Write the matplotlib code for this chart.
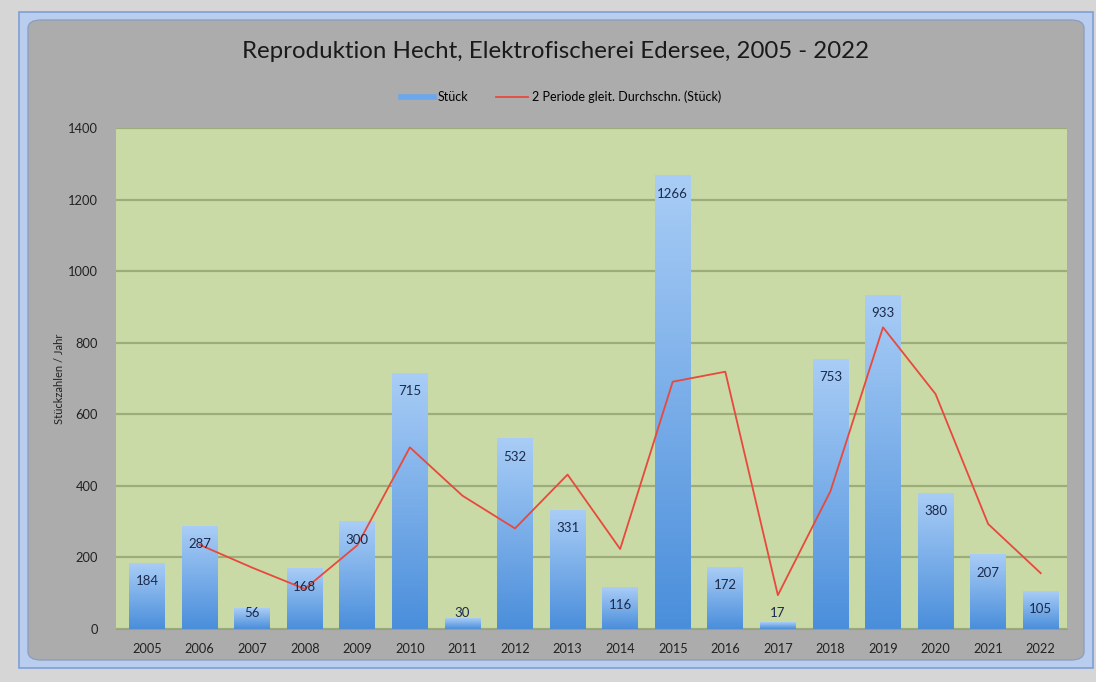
"""Reproduktion Hecht, Elektrofischerei Edersee - bar chart with 2 period moving average."""
import numpy as np
import matplotlib.pyplot as plt
from matplotlib.patches import FancyBboxPatch, Rectangle
from matplotlib.lines import Line2D
from matplotlib.colors import LinearSegmentedColormap

plt.rcParams['font.family'] = ['Lato', 'DejaVu Sans']

years = ["2005", "2006", "2007", "2008", "2009", "2010", "2011", "2012", "2013",
         "2014", "2015", "2016", "2017", "2018", "2019", "2020", "2021", "2022"]
stueck = [184, 287, 56, 168, 300, 715, 30, 532, 331, 116, 1266, 172, 17, 753, 933, 380, 207, 105]
# 2 Periode gleit. Durchschn. (from 2006 on)
avg_years = years[1:]
avg_vals = [235.5, 171.5, 112, 234, 507.5, 372.5, 281, 431.5, 223.5, 691,
            719, 94.5, 385, 843, 656.5, 293.5, 156]

fig = plt.figure(figsize=(10.96, 6.82), dpi=100)
fig.patch.set_facecolor("#d6d6d6")

# chart frame (selected Excel chart look)
W, H = 1096, 682
def fx(px):
    return px / W
def fy(py):
    return 1 - py / H

fig.patches.append(Rectangle((fx(19), fy(668)), fx(1093 - 19), (668 - 12) / H,
                             transform=fig.transFigure, facecolor="#b9cdee",
                             edgecolor="#7f9fd6", lw=1.2, zorder=-5))
fig.patches.append(FancyBboxPatch((fx(28), fy(660)), fx(1084 - 28), (660 - 20) / H,
                                  boxstyle="round,pad=0,rounding_size=0.012",
                                  transform=fig.transFigure, facecolor="#acacac",
                                  edgecolor="#8e9fc0", lw=1.0, zorder=-4))

ax = fig.add_axes([fx(116), fy(629), fx(1067 - 116), (629 - 128) / H])
ax.set_zorder(1)
ax.set_facecolor("#c9daa7")

x = np.arange(len(years))
ax.set_yticks(range(0, 1401, 200))
ax.set_xticks(x)
ax.set_xticklabels(years)
ax.yaxis.grid(True, color="#9cad7b", lw=1.6)
ax.set_axisbelow(True)
for s in ["top", "right", "left"]:
    ax.spines[s].set_visible(False)
ax.spines["bottom"].set_color("#9a9a9a")
ax.tick_params(length=0, colors="#222222")
ax.tick_params(axis="y", pad=13, labelsize=9.3)
ax.tick_params(axis="x", pad=10, labelsize=9.2)

# gradient bars
cmap = LinearSegmentedColormap.from_list("bar", ["#4a8edb", "#a9cdf6"])
grad = np.linspace(0, 1, 256).reshape(-1, 1)
bw = 0.68
bars = ax.bar(x, stueck, width=bw, color="none", zorder=2)
for b in bars:
    bx, by = b.get_x(), b.get_height()
    ax.imshow(grad, cmap=cmap, origin="lower", aspect="auto",
              extent=(bx, bx + bw, 0, by), zorder=2)
ax.set_xlim(-0.59, len(years) - 0.5)
ax.set_ylim(0, 1400)

# data labels
for xi, v in zip(x, stueck):
    ax.text(xi, max(v - 50, 45), str(v), ha="center", va="center",
            fontsize=9.5, color="#1c2a4a", zorder=4)

# moving average line
avg_x = [years.index(y) for y in avg_years]
ax.plot(avg_x, avg_vals, color="#e8493c", lw=1.3, zorder=3)

ax.set_ylabel("Stückzahlen / Jahr", fontsize=8, color="#222222")
ax.yaxis.set_label_coords(-0.054, 0.5)

fig.text(0.507, fy(52), "Reproduktion Hecht, Elektrofischerei Edersee, 2005 - 2022",
         ha="center", va="center", fontsize=17.3, color="#1a1a1a")

handles = [Line2D([], [], color="#6aa7ec", lw=4),
           Line2D([], [], color="#e8493c", lw=1.3)]
fig.legend(handles, ["Stück", "2 Periode gleit. Durchschn. (Stück)"],
           loc="center", bbox_to_anchor=(0.512, fy(97)), ncol=2, frameon=False,
           fontsize=9, handlelength=2.6, columnspacing=2.2, handletextpad=0.3)

fig.savefig("out.png", dpi=100, facecolor=fig.get_facecolor())
